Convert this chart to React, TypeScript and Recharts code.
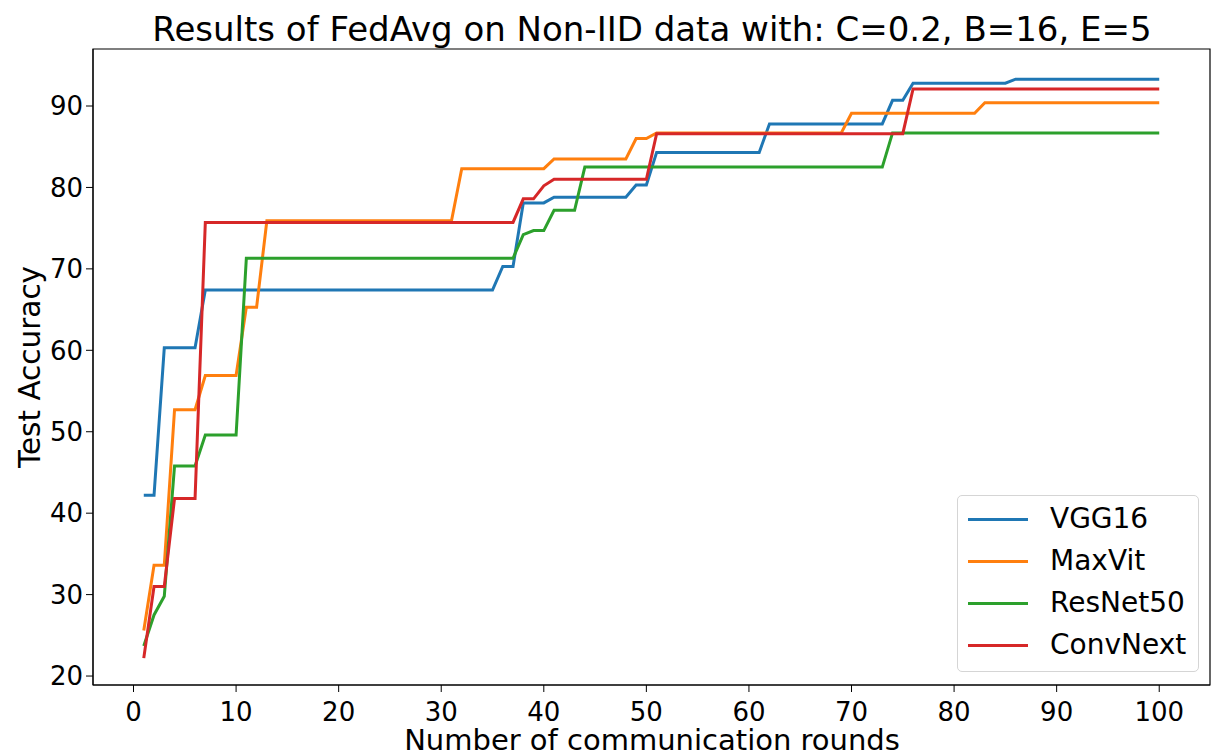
import { LineChart, XAxis, YAxis, Line, Legend, ReferenceArea } from "recharts";

const rounds = Array.from({ length: 100 }, (_, i) => i + 1);

const vgg16 = [
  42.2, 42.2, 60.3, 60.3, 60.3, 60.3, 67.4, 67.4, 67.4, 67.4,
  67.4, 67.4, 67.4, 67.4, 67.4, 67.4, 67.4, 67.4, 67.4, 67.4,
  67.4, 67.4, 67.4, 67.4, 67.4, 67.4, 67.4, 67.4, 67.4, 67.4,
  67.4, 67.4, 67.4, 67.4, 67.4, 70.3, 70.3, 78.1, 78.1, 78.1,
  78.8, 78.8, 78.8, 78.8, 78.8, 78.8, 78.8, 78.8, 80.3, 80.3,
  84.3, 84.3, 84.3, 84.3, 84.3, 84.3, 84.3, 84.3, 84.3, 84.3,
  84.3, 87.8, 87.8, 87.8, 87.8, 87.8, 87.8, 87.8, 87.8, 87.8,
  87.8, 87.8, 87.8, 90.7, 90.7, 92.8, 92.8, 92.8, 92.8, 92.8,
  92.8, 92.8, 92.8, 92.8, 92.8, 93.3, 93.3, 93.3, 93.3, 93.3,
  93.3, 93.3, 93.3, 93.3, 93.3, 93.3, 93.3, 93.3, 93.3, 93.3,
];

const maxvit = [
  25.6, 33.6, 33.6, 52.7, 52.7, 52.7, 56.9, 56.9, 56.9, 56.9,
  65.3, 65.3, 75.9, 75.9, 75.9, 75.9, 75.9, 75.9, 75.9, 75.9,
  75.9, 75.9, 75.9, 75.9, 75.9, 75.9, 75.9, 75.9, 75.9, 75.9,
  75.9, 82.3, 82.3, 82.3, 82.3, 82.3, 82.3, 82.3, 82.3, 82.3,
  83.5, 83.5, 83.5, 83.5, 83.5, 83.5, 83.5, 83.5, 86.0, 86.0,
  86.7, 86.7, 86.7, 86.7, 86.7, 86.7, 86.7, 86.7, 86.7, 86.7,
  86.7, 86.7, 86.7, 86.7, 86.7, 86.7, 86.7, 86.7, 86.7, 89.1,
  89.1, 89.1, 89.1, 89.1, 89.1, 89.1, 89.1, 89.1, 89.1, 89.1,
  89.1, 89.1, 90.4, 90.4, 90.4, 90.4, 90.4, 90.4, 90.4, 90.4,
  90.4, 90.4, 90.4, 90.4, 90.4, 90.4, 90.4, 90.4, 90.4, 90.4,
];

const resnet50 = [
  23.7, 27.5, 29.8, 45.8, 45.8, 45.8, 49.6, 49.6, 49.6, 49.6,
  71.3, 71.3, 71.3, 71.3, 71.3, 71.3, 71.3, 71.3, 71.3, 71.3,
  71.3, 71.3, 71.3, 71.3, 71.3, 71.3, 71.3, 71.3, 71.3, 71.3,
  71.3, 71.3, 71.3, 71.3, 71.3, 71.3, 71.3, 74.2, 74.7, 74.7,
  77.2, 77.2, 77.2, 82.5, 82.5, 82.5, 82.5, 82.5, 82.5, 82.5,
  82.5, 82.5, 82.5, 82.5, 82.5, 82.5, 82.5, 82.5, 82.5, 82.5,
  82.5, 82.5, 82.5, 82.5, 82.5, 82.5, 82.5, 82.5, 82.5, 82.5,
  82.5, 82.5, 82.5, 86.7, 86.7, 86.7, 86.7, 86.7, 86.7, 86.7,
  86.7, 86.7, 86.7, 86.7, 86.7, 86.7, 86.7, 86.7, 86.7, 86.7,
  86.7, 86.7, 86.7, 86.7, 86.7, 86.7, 86.7, 86.7, 86.7, 86.7,
];

const convnext = [
  22.2, 31.0, 31.0, 41.8, 41.8, 41.8, 75.7, 75.7, 75.7, 75.7,
  75.7, 75.7, 75.7, 75.7, 75.7, 75.7, 75.7, 75.7, 75.7, 75.7,
  75.7, 75.7, 75.7, 75.7, 75.7, 75.7, 75.7, 75.7, 75.7, 75.7,
  75.7, 75.7, 75.7, 75.7, 75.7, 75.7, 75.7, 78.6, 78.6, 80.2,
  81.0, 81.0, 81.0, 81.0, 81.0, 81.0, 81.0, 81.0, 81.0, 81.0,
  86.6, 86.6, 86.6, 86.6, 86.6, 86.6, 86.6, 86.6, 86.6, 86.6,
  86.6, 86.6, 86.6, 86.6, 86.6, 86.6, 86.6, 86.6, 86.6, 86.6,
  86.6, 86.6, 86.6, 86.6, 86.6, 92.1, 92.1, 92.1, 92.1, 92.1,
  92.1, 92.1, 92.1, 92.1, 92.1, 92.1, 92.1, 92.1, 92.1, 92.1,
  92.1, 92.1, 92.1, 92.1, 92.1, 92.1, 92.1, 92.1, 92.1, 92.1,
];

const xTicks = [0, 10, 20, 30, 40, 50, 60, 70, 80, 90, 100];
const yTicks = [20, 30, 40, 50, 60, 70, 80, 90];

const series = [
  { key: "vgg16", name: "VGG16", color: "#1f77b4" },
  { key: "maxvit", name: "MaxVit", color: "#ff7f0e" },
  { key: "resnet50", name: "ResNet50", color: "#2ca02c" },
  { key: "convnext", name: "ConvNext", color: "#d62728" },
];

const data = rounds.map((r, i) => ({
  round: r,
  vgg16: vgg16[i],
  maxvit: maxvit[i],
  resnet50: resnet50[i],
  convnext: convnext[i],
}));

const FONT = "DejaVu Sans, sans-serif";
const X_DOMAIN: [number, number] = [-3.95, 104.95];
const Y_DOMAIN: [number, number] = [18.9, 97.0];

function LegendBox() {
  return (
    <div
      style={{
        position: "absolute",
        left: 0,
        top: 0,
        width: 242,
        height: 177,
        boxSizing: "border-box",
        border: "1.5px solid #d5d5d5",
        borderRadius: 5,
        background: "rgba(255,255,255,0.8)",
        paddingTop: 2,
        fontFamily: FONT,
        fontSize: 28,
        color: "#000",
      }}
    >
      {series.map((s) => (
        <div key={s.key} style={{ display: "flex", alignItems: "center", height: 42 }}>
          <div style={{ width: 60, height: 3, background: s.color, marginLeft: 10, marginRight: 22 }} />
          <span style={{ lineHeight: "42px" }}>{s.name}</span>
        </div>
      ))}
    </div>
  );
}

export default function App() {
  return (
    <div style={{ position: "absolute", left: 0, top: 0 }}>
      <LineChart width={1212} height={756} data={data} margin={{ top: 49, right: 2, left: 0, bottom: 0 }}>
        <XAxis
          dataKey="round"
          type="number"
          domain={X_DOMAIN}
          ticks={xTicks}
          allowDataOverflow
          height={71}
          tickSize={7}
          tickMargin={11}
          stroke="#000"
          tick={{ fill: "#000", fontSize: 26, fontFamily: FONT }}
        />
        <YAxis
          type="number"
          domain={Y_DOMAIN}
          ticks={yTicks}
          allowDataOverflow
          width={93}
          tickSize={7}
          tickMargin={3}
          stroke="#000"
          tick={{ fill: "#000", fontSize: 26, fontFamily: FONT }}
        />
        <ReferenceArea
          x1={X_DOMAIN[0]}
          x2={X_DOMAIN[1]}
          y1={Y_DOMAIN[0]}
          y2={Y_DOMAIN[1]}
          fill="none"
          stroke="#000"
          strokeWidth={1.2}
        />
        {series.map((s) => (
          <Line
            key={s.key}
            type="linear"
            dataKey={s.key}
            name={s.name}
            stroke={s.color}
            strokeWidth={3}
            dot={false}
            isAnimationActive={false}
          />
        ))}
        <Legend
          content={() => <LegendBox />}
          wrapperStyle={{ position: "absolute", left: 957, top: 495, width: 242, height: 0, overflow: "visible" }}
        />
        <text x={652} y={41} textAnchor="middle" fontSize={34} fontFamily={FONT} fill="#000">
          Results of FedAvg on Non-IID data with: C=0.2, B=16, E=5
        </text>
        <text x={652} y={750} textAnchor="middle" fontSize={29} fontFamily={FONT} fill="#000">
          Number of communication rounds
        </text>
        <text
          x={40}
          y={367}
          textAnchor="middle"
          fontSize={29.5}
          fontFamily={FONT}
          fill="#000"
          transform="rotate(-90 40 367)"
        >
          Test Accuracy
        </text>
      </LineChart>
    </div>
  );
}
